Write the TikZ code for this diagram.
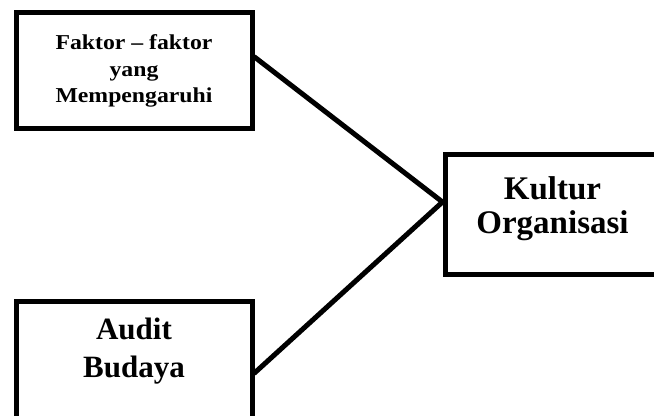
\documentclass[tikz,border=0pt]{standalone}
\usepackage{fontspec}
\setmainfont{Liberation Serif}
\newfontfamily\widefont[FakeStretch=1.12,Ligatures=TeX]{Liberation Serif}
\usepackage{tikz}
\usetikzlibrary{positioning}

\begin{document}
\begin{tikzpicture}[
      x=0.5pt, y=0.5pt,
      every node/.style={font=\bfseries},
      box/.style={draw=black, line width=2.5pt, align=center,
                  inner sep=0pt, minimum width=118pt, minimum height=58pt},
      small/.style={font=\fontsize{10.6}{13.25}\selectfont\widefont\bfseries},
      big/.style={font=\fontsize{15.5}{19}\selectfont\bfseries,
                  text depth=12.5pt},
      bigger/.style={font=\fontsize{16.5}{17}\selectfont\bfseries,
                  text depth=9.6pt},
      conn/.style={line width=2.5pt, line cap=round},
    ]
    \useasboundingbox (0,0) rectangle (654,-416);

    % ── Left: the two inputs ───────────────────────────────
    \node[box, small] (faktor) at (134,-71)
      {Faktor – faktor\\yang\\Mempengaruhi};
    \node[box, big, minimum width=118pt, minimum height=58.5pt,
          below=84pt of faktor.south west, anchor=north west] (audit)
      {Audit\\Budaya};

    % ── Right: the result ──────────────────────────────────
    \node[box, bigger, minimum width=107.5pt, minimum height=60pt]
      (kultur) at (552.5,-215) {Kultur\\Organisasi};
    \coordinate (hub) at ([yshift=6.5pt]kultur.west);

    % ── Connectors ─────────────────────────────────────────
    \draw[conn] ([yshift=7pt]faktor.east) -- (hub);
    \draw[conn] ([yshift=-6.25pt]audit.east) -- (hub);
  \end{tikzpicture}
\end{document}
